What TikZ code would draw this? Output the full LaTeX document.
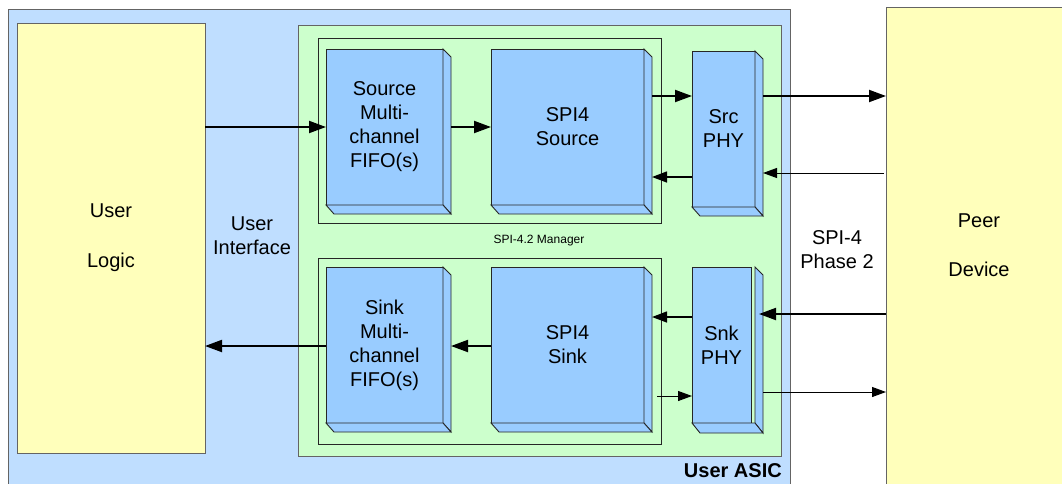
\documentclass[tikz,border=0pt]{standalone}
\usepackage{fontspec}
\setmainfont{Liberation Sans}
\usetikzlibrary{arrows.meta,calc}
\definecolor{asicblue}{RGB}{191,222,255}
\definecolor{mgrgreen}{RGB}{204,255,204}
\definecolor{blkblue}{RGB}{153,204,255}
\definecolor{logicyellow}{RGB}{255,255,187}
\definecolor{edgegray}{RGB}{100,100,100}
\newcommand\depthfaces[1]{%
  \filldraw[blkface] (#1.north east) -- ++(8,8) -- ($(#1.south east)+(8,9)$) -- (#1.south east) -- cycle;
  \filldraw[blkface] (#1.south west) -- (#1.south east) -- ++(8,9) -- ($(#1.south west)+(8,9)$) -- cycle;}
\begin{document}
\begin{tikzpicture}[x=1pt,y=-1pt,
  bigtext/.style={font=\fontsize{20}{24}\selectfont, align=center},
  outerbox/.style={draw=edgegray, line width=0.9pt},
  frontface/.style={draw=black!85, fill=blkblue, line width=0.9pt, inner sep=0pt, outer sep=0pt, anchor=north west, bigtext},
  blkface/.style={draw=black!85, fill=blkblue, line width=0.9pt, line join=miter},
  grpbox/.style={draw=black!85, line width=0.9pt, inner sep=0pt, outer sep=0pt, anchor=north west},
  thick arrow/.style={line width=2pt, -{Triangle[length=17pt,width=12pt]}},
  thin arrow/.style={line width=1pt, -{Triangle[length=14pt,width=10pt]}},
  mid arrow/.style={line width=1.4pt, -{Triangle[length=15pt,width=11pt]}}]
\useasboundingbox (0,0) rectangle (1062,483);
\clip (0,0) rectangle (1062,483);
\fill[white] (0,0) rectangle (1062,483);

% outer boxes
\node[outerbox, fill=asicblue, inner sep=0pt, outer sep=0pt, anchor=north west, minimum width=782, minimum height=490] (asic) at (8,9.5) {};
\node[outerbox, fill=logicyellow, inner sep=0pt, outer sep=0pt, anchor=north west, minimum width=188, minimum height=430, bigtext] (ul) at (17,23) {User\\[26pt]Logic};
\node[outerbox, fill=logicyellow, inner sep=0pt, outer sep=0pt, anchor=north west, minimum width=200, minimum height=490] (peer) at (886,7) {};
\node[bigtext] (peerlbl) at (979,245) {Peer\\[25pt]Device};
\node[outerbox, fill=mgrgreen, inner sep=0pt, outer sep=0pt, anchor=north west, minimum width=483, minimum height=431] (mgr) at (298,25) {};

% group boxes
\node[grpbox, minimum width=343, minimum height=185] (srcgrp) at (318,38) {};
\node[grpbox, minimum width=343, minimum height=186] (snkgrp) at (318,258) {};

% blocks
\node[frontface, minimum width=117, minimum height=156] (sf) at (326,49) {Source\\Multi-\\channel\\FIFO(s)};
\node[frontface, minimum width=153, minimum height=156] (ss) at (491,49) {SPI4\\Source};
\node[frontface, minimum width=63, minimum height=156] (sp) at (692,51) {Src\\PHY};
\node[frontface, minimum width=117, minimum height=156] (kf) at (326,267) {Sink\\Multi-\\channel\\FIFO(s)};
\node[frontface, minimum width=153, minimum height=156] (ks) at (491,267) {SPI4\\Sink};
\node[frontface, minimum width=59, minimum height=156] (kp) at (692,267) {Snk\\PHY};
\depthfaces{sf}
\depthfaces{ss}
\depthfaces{sp}
\depthfaces{kf}
\depthfaces{ks}
% Snk PHY depth (detached slab)
\filldraw[blkface] (755,267) -- (763,275) -- (763,433) -- (755,423) -- cycle;
\filldraw[blkface] (kp.south west) -- (755,423) -- (763,433) -- (700,433) -- cycle;

% labels
\node[bigtext] (uilbl) at (252,236) {User\\Interface};
\node[bigtext] (phlbl) at (837,250) {SPI-4\\Phase 2};
\node[font=\fontsize{12}{14}\selectfont] (mgrlbl) at (539,241) {SPI-4.2 Manager};
\node[font=\fontsize{20}{24}\selectfont\bfseries, anchor=base east, inner sep=0pt] (asiclbl) at (782,477) {User ASIC};

% arrow rows
\coordinate (r1) at (0,127);
\coordinate (r2) at (0,96);
\coordinate (r3a) at (0,173);
\coordinate (r3b) at (0,177);
\coordinate (r4) at (0,346);
\coordinate (r5a) at (0,314);
\coordinate (r5b) at (0,317);
\coordinate (r6a) at (0,396);
\coordinate (r6b) at (0,392);

% source path
\draw[thick arrow] (ul.east |- r1) -- (sf.west |- r1);
\draw[thick arrow] ([xshift=8pt]sf.east |- r1) -- (ss.west |- r1);
\draw[thick arrow] ([xshift=8pt]ss.east |- r2) -- (sp.west |- r2);
\draw[thick arrow] ([xshift=8pt]sp.east |- r2) -- (peer.west |- r2);
\draw[thin arrow] ([xshift=-2pt]peer.west |- r3a) -- ([xshift=8pt]sp.east |- r3a);
\draw[mid arrow] (sp.west |- r3b) -- ([xshift=8pt]ss.east |- r3b);

% sink path
\draw[thick arrow] (kf.west |- r4) -- (ul.east |- r4);
\draw[thick arrow] (ks.west |- r4) -- ([xshift=8pt]kf.east |- r4);
\draw[thick arrow] (peer.west |- r5a) -- ([xshift=8pt]kp.east |- r5a);
\draw[mid arrow] (kp.west |- r5b) -- ([xshift=8pt]ks.east |- r5b);
\draw[thin arrow] ([xshift=13pt]ks.east |- r6a) -- (kp.west |- r6a);
\draw[thin arrow] ([xshift=12pt]kp.east |- r6b) -- (peer.west |- r6b);
\end{tikzpicture}
\end{document}
